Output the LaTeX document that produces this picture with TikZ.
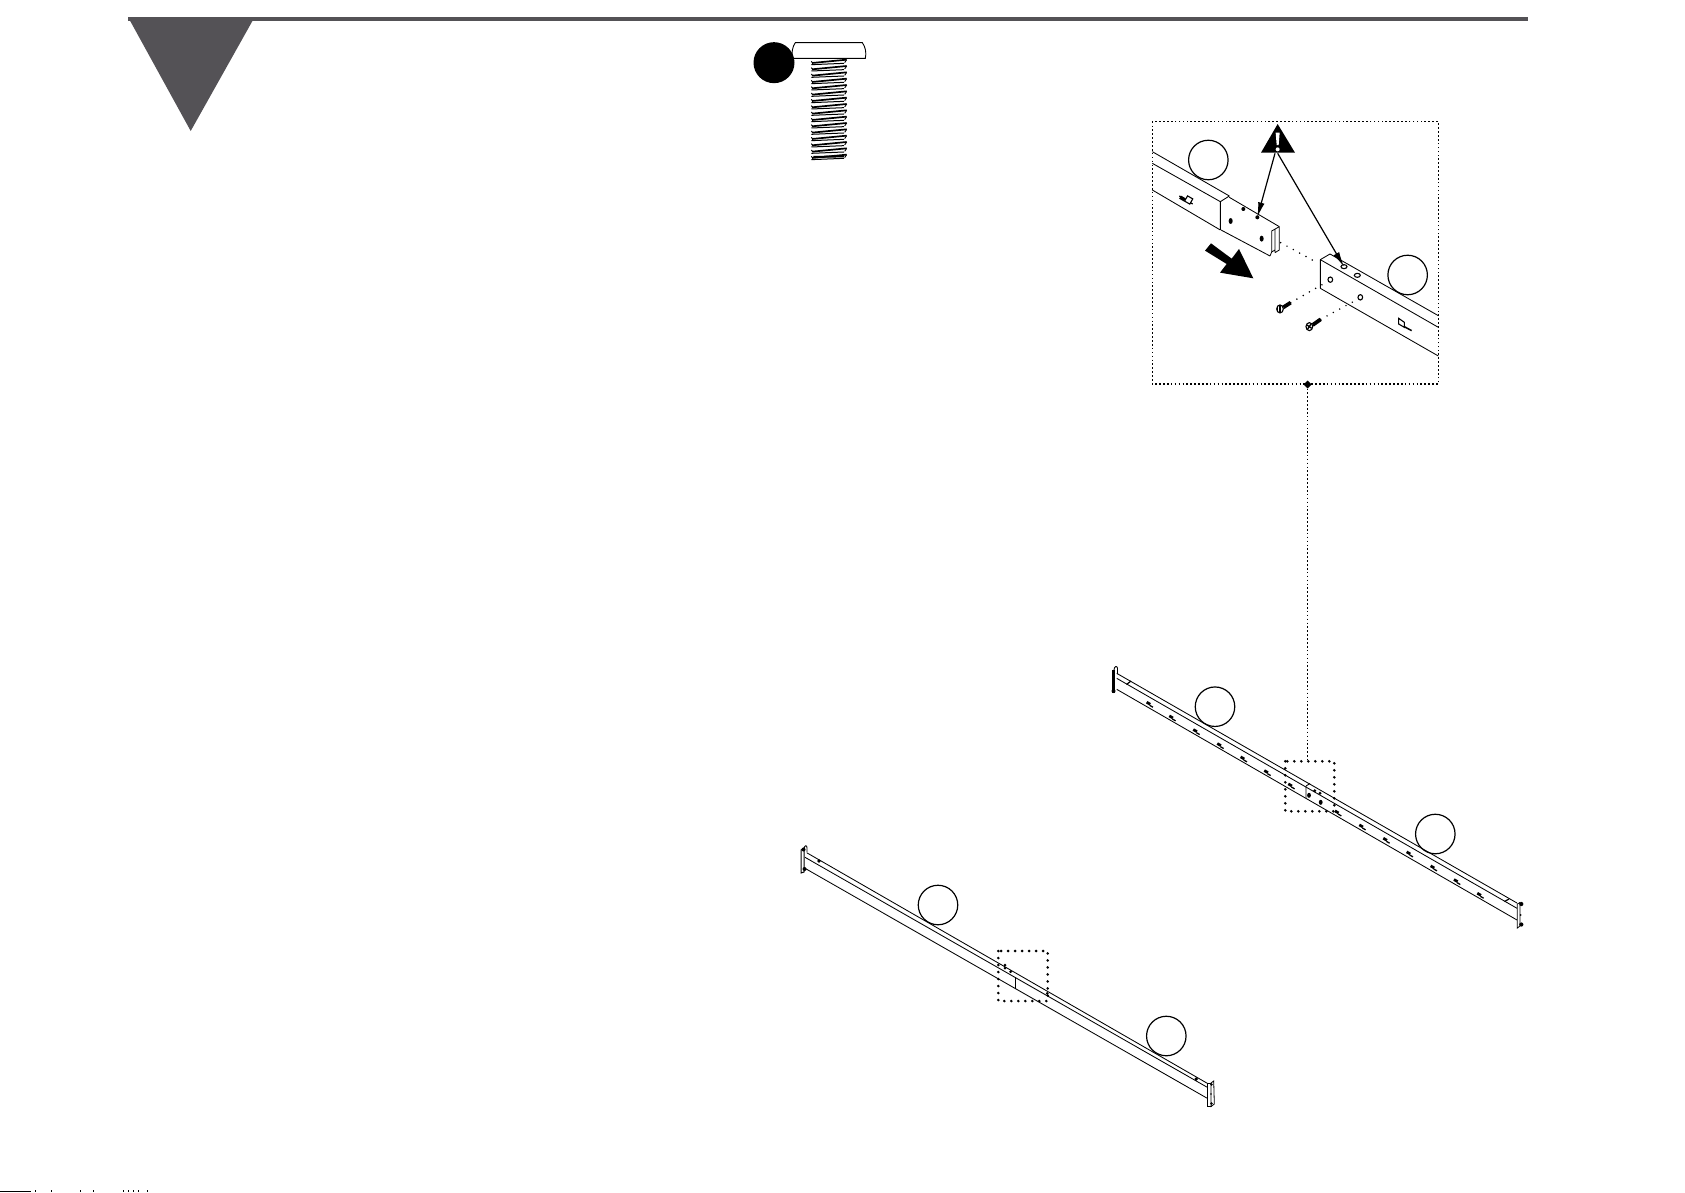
\documentclass[tikz,border=0pt]{standalone}
\usetikzlibrary{arrows.meta}
\definecolor{bargrey}{HTML}{545256}
\tikzset{
  beamline/.style={line width=0.85pt,black},
  lab/.style={circle,draw=black,line width=1.2pt,minimum size=39.5pt,inner sep=0pt,fill=none},
  fineDots/.style={line width=1.1pt,dash pattern=on 1.6pt off 2.3pt},
  bigDots/.style={line width=2.9pt,line cap=round,dash pattern=on 0pt off 7pt},
  midDots/.style={line width=1.7pt,line cap=round,dash pattern=on 0pt off 7.2pt},
  warn/.style={line width=1.2pt,-{Latex[length=15pt,width=6.5pt]}},
  hole/.style={fill=black,draw=none},
}
\newcommand{\slotmark}[2]{%
  \begin{scope}[shift={(#1,#2)},rotate=-30]
    \fill[black] (-4,-1.5) rectangle (0.2,1.2);
    \draw[black,line width=1.3pt] (0.2,1) -- (4,1);
  \end{scope}}
\begin{document}
\begin{tikzpicture}[x=1pt,y=-1pt]
\useasboundingbox (0,0) rectangle (1685,1192);
% header
\fill[bargrey] (128,16.8) rectangle (1528,21);
\fill[bargrey] (128,17) -- (253,20) -- (190.7,131) -- cycle;

% screw
\begin{scope}[shift={(740,30)},x=0.3333pt,y=-0.3333pt]
  \draw[line width=0.9pt,fill=white] (157,85) -- (376,85) .. controls (380,68) and (376,50) .. (367,38) -- (166,38) .. controls (158,48) and (154,68) .. (157,85) -- cycle;
  \foreach \yy in {92,111,...,378}{
    \draw[line width=1.7pt] (216,\yy+7) -- (320,\yy-3);
    \draw[line width=1pt] (214,\yy+12) -- (312,\yy+8);
    \draw[line width=0.9pt] (214,\yy+2) -- (218,\yy+7);
    \draw[line width=0.9pt] (320,\yy-3) -- (314,\yy+6);
  }
  \draw[line width=2pt] (220,381) -- (312,379);
  \fill[black] (102,98) circle (61.5);
\end{scope}

% detail view
\begin{scope}[shift={(1140,110)},x=0.3333pt,y=-0.3333pt]
  \draw[fineDots] (37,35) rectangle (895,822);
  % left beam
  \draw[beamline] (37,125) -- (268,258) (37,160) -- (241,275) (37,240) -- (241,360);
  \draw[beamline] (241,275) -- (241,360) (241,275) -- (268,258);
  \draw[beamline] (268,262) -- (418,350) (243,360) -- (390,438);
  \draw[line width=0.8pt] (418,350) -- (418,420) -- (405,428) (390,438) -- (395,426) (418,350) -- (395,363) -- (395,426) -- (405,420) (405,358) -- (405,428);
  \draw[line width=1.2pt] (118,258) -- (158,282);
  \draw[line width=1.1pt,fill=white,shift={(146,270)},rotate=-30,x=1pt,y=1pt] (-3,-3) rectangle (3,3);
  \fill[black,shift={(128,266)},rotate=-30,x=1pt,y=1pt] (-3,-1.8) rectangle (2.5,1.8);
  \fill[hole] (272,333) ellipse (6 and 9);
  \fill[hole] (310,297) ellipse (6 and 6);
  \coordinate (holeL) at (352,322);
  \fill[hole] (holeL) circle (6);
  \fill[hole] (365,386) ellipse (6 and 9);
  % right beam
  \draw[beamline] (570,432) -- (895,617) (541,449) -- (895,652) (541,535) -- (895,738);
  \draw[beamline] (541,449) -- (541,535) (541,449) -- (570,432);
  \coordinate (holeR) at (612,470);
  \draw[line width=1.1pt] (holeR) ellipse (9 and 6);
  \draw[line width=1.1pt] (652,496) ellipse (9 and 6);
  \draw[line width=1.1pt] (571,509) ellipse (7 and 8);
  \draw[line width=1.1pt] (661,562) ellipse (7 and 8);
  \draw[line width=1.1pt] (776,625) -- (776,642) -- (793,652) -- (793,637) -- cycle;
  \draw[line width=1.5pt] (793,650) -- (815,662);
  % labels
  \node[lab] (partA) at (205,150) {};
  \node[lab] (partB) at (803,495) {};
  % warning
  \fill[black] (413,42) -- (465,128) -- (363,128) -- cycle;
  \fill[white] (407,68) -- (419,68) -- (416,105) -- (410,105) -- cycle;
  \fill[white] (413,118) circle (6);
  \coordinate (warnA) at (405,130);
  \coordinate (warnB) at (413,130);
  \draw[warn] (warnA) -- (holeL);
  \draw[warn] (warnB) -- (holeR);
  % direction arrow
  \fill[black] (195,422) -- (213,400) -- (275,446) -- (297,417) -- (340,505) -- (240,488) -- (260,462) -- cycle;
  % dotted guides
  \coordinate (g1a) at (422,398);
  \coordinate (g1b) at (535,460);
  \coordinate (g2a) at (452,578);
  \coordinate (g2b) at (562,515);
  \coordinate (g3a) at (542,628);
  \coordinate (g3b) at (655,567);
  \draw[midDots] (g1a) -- (g1b);
  \draw[midDots] (g2a) -- (g2b);
  \draw[midDots] (g3a) -- (g3b);
  % fasteners
  \draw[line width=3.8pt] (430,592) -- (g2a);
  \draw[line width=1.1pt,fill=white] (420,597) ellipse (10 and 12);
  \draw[line width=1.3pt] (413,590) -- (413,604) (420,586) -- (420,608);
  \draw[line width=3.8pt] (518,645) -- (g3a);
  \draw[line width=1.1pt,fill=white] (508,650) ellipse (10 and 12);
  \draw[line width=1.3pt] (501,645) -- (515,655) (503,657) -- (513,642);
\end{scope}

% link between detail and beam
\coordinate (detailEnd) at (1307.6,384.6);
\coordinate (boxTop) at (1307.6,760);
\fill[black] (detailEnd) -- ++(4,0) -- ++(-4,4) -- ++(-4,-4) -- ++(4,-4) -- ++(4,4) -- cycle;
\draw[fineDots] (detailEnd) -- (boxTop);

% upper long beam
\draw[beamline] (1116.7,673.3) -- (1517,903);
\draw[beamline] (1116.7,678.3) -- (1517,908.3);
\draw[beamline] (1116.7,689.3) -- (1517,920);
\draw[beamline] (1306,786) -- (1306,798.5) (1306,786) -- (1310,783.5);
\fill[black] (1111.5,670) rectangle (1115,693);
\draw[line width=0.9pt] (1114,670) .. controls (1114,666) and (1117,665.5) .. (1117.5,668) -- (1117.5,674);
\fill[black] (1113.5,691) circle (2);
\draw[line width=0.8pt,fill=white] (1517.3,904) -- (1520,902.5) -- (1520,926) -- (1517.3,928) -- cycle;
\fill[black] (1521.3,904) circle (2.1);
\fill[black] (1521.3,924.5) circle (2.1);
\fill[black] (1520.6,915) circle (1);
\foreach \zx/\zy in {150/163,218/204,290/245,362/287,432/327,503/368,575/408}{
  \slotmark{1100+\zx/3}{650+\zy/3}
}
\foreach \zx/\zy in {115/99,188/141,260/181,330/222,402/264,472/305,542/346}{
  \slotmark{1300+\zx/3}{780+\zy/3}
}
\draw[line width=1.2pt] (1126.5,684.5) -- (1131,681);
\draw[line width=1.2pt] (1504.5,901.5) -- (1509,899);
\fill[black] (1309,795.3) ellipse (1.9 and 2.5);
\fill[black] (1320.7,802.3) ellipse (1.9 and 2.5);
\fill[black] (1314.7,790.7) circle (1.6);
\fill[black] (1320,793.3) circle (1.6);
\node[lab] (partC) at (1215,706.7) {};
\node[lab] (partD) at (1435.3,834) {};
\draw[bigDots] (1285.3,761.3) rectangle (1334.3,811.3);

% lower long beam
\draw[beamline] (806.7,852.7) -- (1207.3,1083.3);
\draw[beamline] (805,857.3) -- (1207.3,1087.3);
\draw[beamline] (805,868.3) -- (1207.3,1098.3);
\draw[line width=1.1pt] (1015.3,977.3) -- (1015.3,989);
\draw[line width=1pt,fill=white] (801,850) -- (804,848) -- (804,872) -- (801,873) -- cycle;
\draw[line width=0.9pt] (804,848) .. controls (805,845) and (807,845) .. (807,848) -- (807,852);
\fill[black] (803.5,849.5) circle (2);
\fill[black] (804.5,869) circle (2);
\draw[line width=0.8pt,fill=white] (1207.5,1083) rectangle (1211,1106.5);
\draw[line width=0.8pt,fill=white] (1211,1083) -- (1213.7,1081) -- (1214.3,1104) -- (1211,1106.5) -- cycle;
\fill[black] (1211.5,1084.5) circle (1.4);
\fill[black] (1211.5,1103.5) circle (1.4);
\fill[black] (1211,1094) circle (0.9);
\fill[black] (819,861) circle (1.9);
\fill[black] (1005,965) circle (1.5);
\fill[black] (1005,968) circle (1.5);
\fill[black] (1010.7,971.7) circle (1.5);
\fill[black] (1047.3,993.3) circle (1.5);
\fill[black] (1196.3,1079) circle (1.9);
\node[lab] (partE) at (938,905) {};
\node[lab] (partF) at (1166.3,1036) {};
\draw[bigDots] (998.3,951) rectangle (1047.7,1001);

% clipped remnant along the bottom edge
\draw[line width=1.2pt] (0,1191.4) -- (30.7,1191.4);
\foreach \xx in {35,51,80,93,123,128,133,138,147}{
  \fill[black] (\xx,1190.4) rectangle (\xx+1,1192);
}
\end{tikzpicture}
\end{document}
